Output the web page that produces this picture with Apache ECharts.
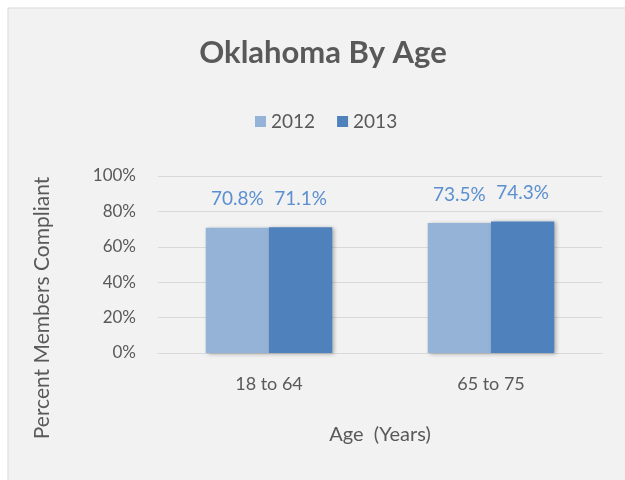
<!DOCTYPE html>
<html>
<head>
<meta charset="utf-8">
<script src="https://cdn.jsdelivr.net/npm/echarts@6/dist/echarts.min.js"></script>
<style>
  html, body { margin: 0; padding: 0; background: #fff; }
  #chart { width: 625px; height: 480px; }
</style>
</head>
<body>
<div id="chart"></div>
<script>
// data
var categories = ['18 to 64', '65 to 75'];
var values2012 = [70.8, 73.5];
var values2013 = [71.1, 74.3];
var yTicks = [0, 20, 40, 60, 80, 100];

var myChart = echarts.init(document.getElementById('chart'));
var font = 'Lato, "Open Sans", sans-serif';

var option = {
  backgroundColor: '#fff',
  textStyle: { fontFamily: font },
  graphic: [
    {
      type: 'rect',
      shape: { x: 8, y: 8, width: 625, height: 480 },
      style: { fill: '#f2f2f2', stroke: '#d9d9d9', lineWidth: 1 },
      z: -10
    },
    {
      // y axis title, sits lower than the plot centre
      type: 'text',
      x: 42,
      y: 308,
      rotation: Math.PI / 2,
      style: {
        text: 'Percent Members Compliant',
        fill: '#595959',
        font: '21px ' + font,
        align: 'center',
        verticalAlign: 'middle'
      }
    }
  ],
  title: {
    text: 'Oklahoma By Age',
    left: 318,
    top: 32,
    textAlign: 'center',
    textStyle: { color: '#595959', fontSize: 31, fontWeight: 'bold', fontFamily: font }
  },
  legend: {
    data: ['2012', '2013'],
    left: 250,
    top: 107,
    itemWidth: 11,
    itemHeight: 11,
    itemGap: 22,
    icon: 'rect',
    textStyle: { color: '#595959', fontSize: 19, fontFamily: font }
  },
  grid: {
    left: 158,
    right: 23,
    top: 176,
    bottom: 127
  },
  xAxis: {
    type: 'category',
    data: categories,
    name: 'Age  (Years)',
    nameLocation: 'middle',
    nameGap: 72,
    nameTextStyle: { color: '#595959', fontSize: 20, fontFamily: font },
    axisLine: { lineStyle: { color: '#d9d9d9' } },
    axisTick: { show: false },
    axisLabel: { color: '#595959', fontSize: 18, margin: 22, fontFamily: font }
  },
  yAxis: {
    type: 'value',
    min: yTicks[0],
    max: yTicks[yTicks.length - 1],
    interval: 20,
    axisLine: { show: false },
    axisTick: { show: false },
    splitLine: { lineStyle: { color: '#d9d9d9' } },
    axisLabel: {
      color: '#595959',
      fontSize: 17,
      margin: 22,
      fontFamily: font,
      formatter: function (v) { return v + '%'; }
    }
  },
  series: [
    {
      name: '2012',
      type: 'bar',
      data: values2012,
      barGap: '0%',
      barCategoryGap: '43%',
      itemStyle: {
        color: '#95b3d7',
        shadowColor: 'rgba(0,0,0,0.3)',
        shadowBlur: 4,
        shadowOffsetX: 2,
        shadowOffsetY: 1
      },
      label: {
        show: true,
        position: 'top',
        distance: 19,
        color: '#5b8fd0',
        fontSize: 19,
        fontFamily: font,
        formatter: function (p) { return p.value.toFixed(1) + '%'; }
      }
    },
    {
      name: '2013',
      type: 'bar',
      data: values2013,
      itemStyle: {
        color: '#4f81bd',
        shadowColor: 'rgba(0,0,0,0.3)',
        shadowBlur: 4,
        shadowOffsetX: 2,
        shadowOffsetY: 1
      },
      label: {
        show: true,
        position: 'top',
        distance: 19,
        color: '#5b8fd0',
        fontSize: 19,
        fontFamily: font,
        formatter: function (p) { return p.value.toFixed(1) + '%'; }
      }
    }
  ]
};

myChart.setOption(option);
</script>
</body>
</html>
